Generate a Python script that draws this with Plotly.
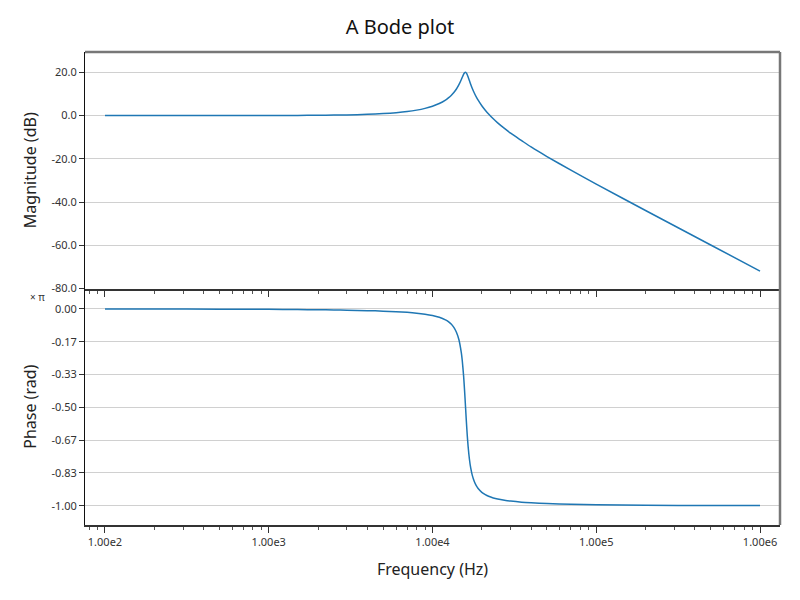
import plotly.graph_objects as go
from plotly.subplots import make_subplots

# Frequency (Hz)
freq = [100, 200, 500, 1000, 1500, 2000, 2500, 3000, 4000, 5000, 6000, 7000, 8000, 9000,
        10000, 11000, 12000, 12500, 13000, 13500, 14000, 14500, 15000, 15200, 15500,
        15700, 15800, 15915, 16000, 16100, 16300, 16500, 16800, 17100, 17500, 18000,
        18500, 19000, 20000, 21000, 22000, 23500, 25000, 27500, 30000, 35000, 40000,
        50000, 70000, 100000, 200000, 500000, 1000000]
# Magnitude (dB)
mag_db = [0.0, 0.0, 0.01, 0.03, 0.08, 0.14, 0.22, 0.31, 0.56, 0.90, 1.33, 1.85, 2.51,
          3.32, 4.32, 5.57, 7.17, 8.16, 9.30, 10.66, 12.30, 14.30, 16.70, 17.74, 19.16,
          19.81, 19.97, 20.0, 19.91, 19.67, 18.90, 17.86, 16.16, 14.51, 12.53, 10.43,
          8.64, 7.10, 4.54, 2.47, 0.71, -1.51, -3.38, -5.96, -8.17, -11.59, -14.52,
          -18.96, -25.27, -31.71, -43.91, -59.88, -71.93]
# Phase (units of pi)
phase_pi = [-0.0002, -0.0004, -0.0010, -0.0020, -0.0030, -0.0041, -0.0051, -0.0062,
            -0.0085, -0.0111, -0.0140, -0.0173, -0.0214, -0.0264, -0.0329, -0.0419,
            -0.0551, -0.0643, -0.0766, -0.0935, -0.1181, -0.1567, -0.2231, -0.2632,
            -0.3451, -0.4155, -0.4541, -0.5, -0.5336, -0.5723, -0.6418, -0.6991,
            -0.7626, -0.8065, -0.8459, -0.8770, -0.8983, -0.9129, -0.9320, -0.9437,
            -0.9521, -0.9604, -0.9661, -0.9722, -0.9765, -0.9819, -0.9850, -0.9887,
            -0.9924, -0.9948, -0.9975, -0.9990, -0.9995]

x_tickvals = [100, 1000, 10000, 100000, 1000000]
x_ticktext = ["1.00e2", "1.00e3", "1.00e4", "1.00e5", "1.00e6"]
x_minor_ticks = [80, 90,
                 200, 300, 400, 500, 600, 700, 800, 900,
                 2000, 3000, 4000, 5000, 6000, 7000, 8000, 9000,
                 20000, 30000, 40000, 50000, 60000, 70000, 80000, 90000,
                 200000, 300000, 400000, 500000, 600000, 700000, 800000, 900000]
mag_tickvals = [20, 0, -20, -40, -60, -80]
mag_ticktext = ["20.0", "0.0", "-20.0", "-40.0", "-60.0", "-80.0"]
ph_tickvals = [0, -1/6, -1/3, -1/2, -2/3, -5/6, -1]
ph_ticktext = ["0.00", "-0.17", "-0.33", "-0.50", "-0.67", "-0.83", "-1.00"]

LINE = "#1f77b4"
FONT = "Noto Sans"

fig = make_subplots(rows=2, cols=1, shared_xaxes=True, vertical_spacing=0)
fig.add_trace(go.Scatter(x=freq, y=mag_db, mode="lines", line_shape="spline",
                         line=dict(color=LINE, width=1.5, smoothing=0.6),
                         showlegend=False), row=1, col=1)
fig.add_trace(go.Scatter(x=freq, y=phase_pi, mode="lines", line_shape="spline",
                         line=dict(color=LINE, width=1.5, smoothing=0.6),
                         showlegend=False), row=2, col=1)

xcommon = dict(type="log", range=[1.878, 6.122], tickvals=x_tickvals, ticktext=x_ticktext,
               showgrid=False, zeroline=False, showline=True, linecolor="#333", linewidth=2,
               ticks="outside", ticklen=6, tickcolor="#333", tickwidth=1,
               minor=dict(ticks="outside", ticklen=3, tickcolor="#555", showgrid=False,
                          tickvals=x_minor_ticks),
               tickfont=dict(family=FONT, size=11, color="#333"))
fig.update_xaxes(**xcommon)
fig.update_xaxes(showticklabels=False, row=1, col=1)
fig.update_xaxes(title=dict(text="Frequency (Hz)", font=dict(family=FONT, size=16, color="#222"),
                            standoff=16), row=2, col=1)

ycommon = dict(showgrid=True, gridcolor="#d0d0d0", gridwidth=1, zeroline=False,
               showline=True, linecolor="#111", linewidth=1, ticks="outside", ticklen=5,
               tickcolor="#333", tickfont=dict(family=FONT, size=11, color="#333"))
fig.update_yaxes(**ycommon)
fig.update_yaxes(range=[-80, 29.4], tickvals=mag_tickvals, ticktext=mag_ticktext,
                 title=dict(text="Magnitude (dB)", font=dict(family=FONT, size=16, color="#222"),
                            standoff=10), row=1, col=1)
fig.update_yaxes(range=[-1.098, 0.104], tickvals=ph_tickvals, ticktext=ph_ticktext,
                 title=dict(text="Phase (rad)", font=dict(family=FONT, size=16, color="#222"),
                            standoff=10), row=2, col=1)

# frame: grey top and right border
fig.add_shape(type="line", xref="paper", yref="paper", x0=0, x1=1, y0=1, y1=1,
              line=dict(color="#777", width=2.5))
fig.add_shape(type="line", xref="paper", yref="paper", x0=1, x1=1, y0=0, y1=1,
              line=dict(color="#777", width=2.5))

fig.add_annotation(text="× π", xref="paper", yref="paper", x=-0.068, y=0.482,
                   xanchor="center", yanchor="middle", showarrow=False,
                   font=dict(family=FONT, size=10, color="#333"))

fig.update_layout(
    width=800, height=600,
    margin=dict(l=85, r=20, t=52, b=75),
    paper_bgcolor="white", plot_bgcolor="white",
    title=dict(text="A Bode plot", x=0.5, xanchor="center", y=0.955, yanchor="middle",
               font=dict(family=FONT, size=20, color="#111")),
    font=dict(family=FONT),
)

fig.write_html("out.html")
